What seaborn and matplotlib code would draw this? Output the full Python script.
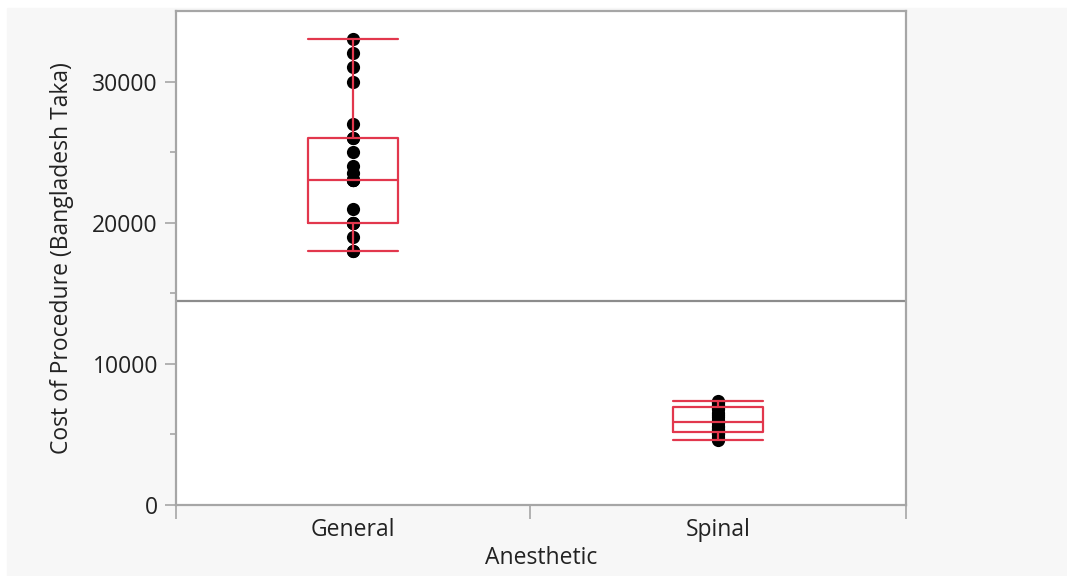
import numpy as np
import pandas as pd
import seaborn as sns
import matplotlib.pyplot as plt
from matplotlib.patches import Rectangle

# cost of procedure per patient
general_cost = [18000, 18000, 19000, 20000, 20000, 20000, 21000, 23000, 23000,
                23000, 23000, 23500, 24000, 25000, 26000, 26000, 27000, 30000,
                31000, 32000, 33000]
spinal_cost = [4600, 4700, 4800, 5000, 5000, 5200, 5200, 5300, 5400, 5500,
               5600, 5800, 6000, 6200, 6400, 6500, 6800, 6900, 7000, 7000,
               7100, 7200, 7300, 7400]
groups = ["General", "Spinal"]

df = pd.DataFrame({
    "Anesthetic": [groups[0]] * len(general_cost) + [groups[1]] * len(spinal_cost),
    "Cost": general_cost + spinal_cost,
})

sns.set_style("white")
plt.rcParams['font.family'] = ['Open Sans', 'DejaVu Sans']

red = "#e2374d"
frame = "#a6a6a6"

fig = plt.figure(figsize=(10.67, 5.76), dpi=100)
fig.patch.set_facecolor("white")
fig.patches.append(Rectangle((7 / 1067, 0), 1, (576 - 8) / 576,
                             transform=fig.transFigure, color="#f7f7f7", zorder=-10))
ax = fig.add_axes([176 / 1067, 71 / 576, 730 / 1067, 494 / 576])

# grand mean line
ax.axhline(df["Cost"].mean(), color="#8c8c8c", lw=1.6, zorder=1)

sns.stripplot(data=df, x="Anesthetic", y="Cost", order=groups, jitter=False,
              color="black", size=9.5, zorder=2, ax=ax)
sns.boxplot(data=df, x="Anesthetic", y="Cost", order=groups, fill=False,
            color=red, width=0.245, linewidth=1.6, showfliers=False,
            whis=(0, 100), capwidths=0.245, zorder=3, ax=ax)

ax.set_xlim(-0.485, 1.515)
ax.set_ylim(0, 35000)
ax.set_yticks([0, 10000, 20000, 30000])
ax.set_yticks([5000, 15000, 25000], minor=True)
ax.set_xticks([-0.485, 0.485, 1.515], minor=True)

for s in ax.spines.values():
    s.set_color(frame)
    s.set_linewidth(1.6)

ax.tick_params(axis="y", which="major", left=True, length=8, width=1.2,
               color=frame, labelsize=16.5, labelcolor="#222222", pad=5)
ax.tick_params(axis="y", which="minor", left=True, length=4, width=1.2, color=frame)
ax.tick_params(axis="x", which="major", bottom=False, labelsize=16.5,
               labelcolor="#222222", pad=6)
ax.tick_params(axis="x", which="minor", bottom=True, length=10, width=1.2, color=frame)

ax.set_xlabel("Anesthetic", fontsize=16.5, color="#222222", labelpad=3)
ax.set_ylabel("Cost of Procedure (Bangladesh Taka)", fontsize=16.5,
              color="#222222", labelpad=13)

plt.savefig("out.png", dpi=100, facecolor=fig.get_facecolor())
